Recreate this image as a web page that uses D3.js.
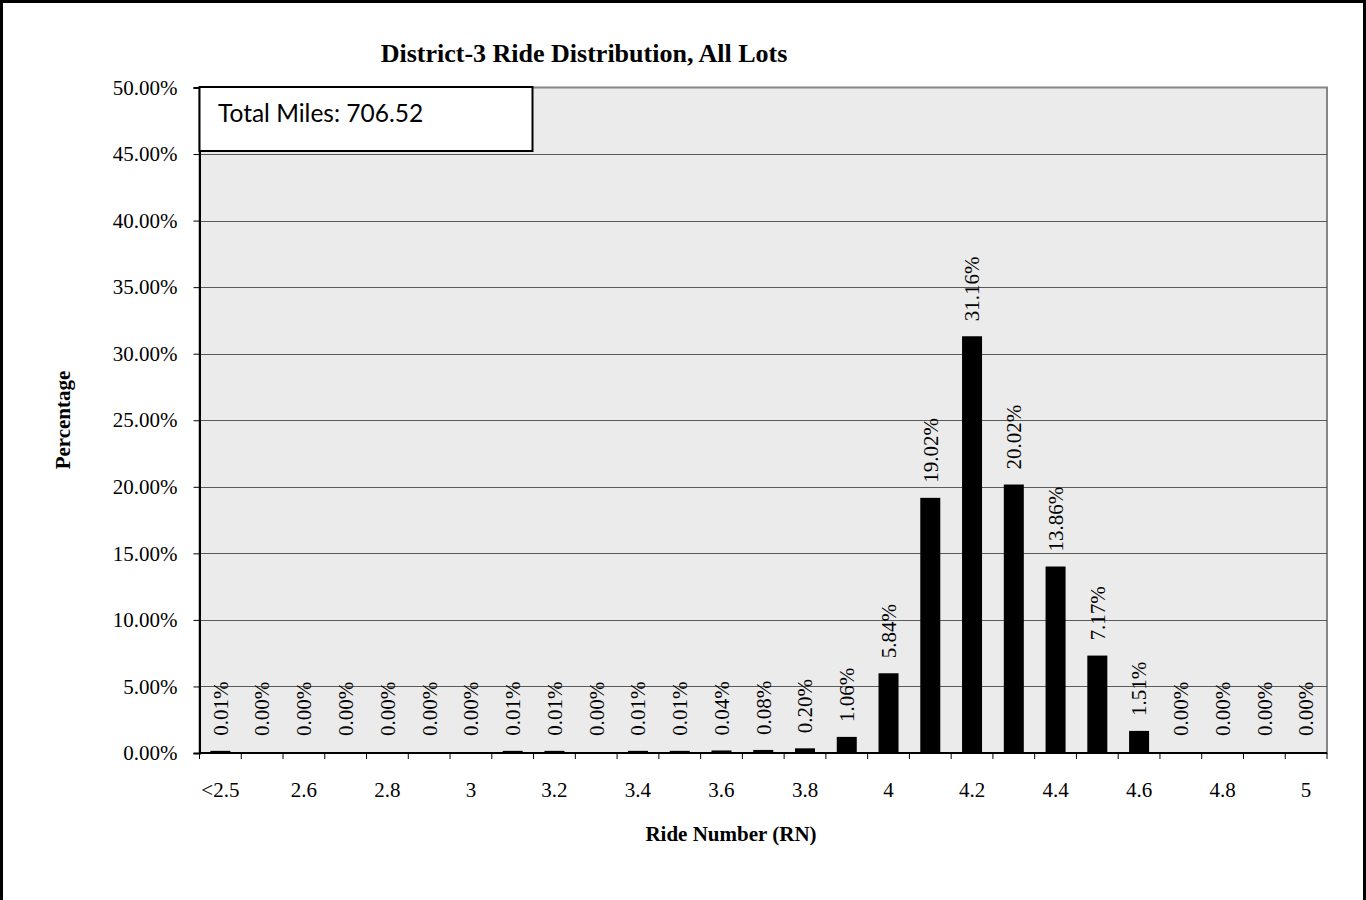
<!DOCTYPE html>
<html>
<head>
<script src="https://cdn.jsdelivr.net/npm/d3@7"></script>
<style>
  body { margin: 0; background: white; }
</style>
</head>
<body>
<script>

var width = 1366,
    height = 900,
    serif = "'Liberation Serif', 'Times New Roman', serif";

// ride number bins and the share of miles in each one
var categories = ["<2.5", "2.5", "2.6", "2.7", "2.8", "2.9", "3", "3.1", "3.2", "3.3",
                  "3.4", "3.5", "3.6", "3.7", "3.8", "3.9", "4", "4.1", "4.2", "4.3",
                  "4.4", "4.5", "4.6", "4.7", "4.8", "4.9", "5"];
var percents = [0.01, 0.00, 0.00, 0.00, 0.00, 0.00, 0.00, 0.01, 0.01, 0.00,
                0.01, 0.01, 0.04, 0.08, 0.20, 1.06, 5.84, 19.02, 31.16, 20.02,
                13.86, 7.17, 1.51, 0.00, 0.00, 0.00, 0.00];
// only every other bin gets a label on the axis
var shownTicks = ["<2.5", "2.6", "2.8", "3", "3.2", "3.4", "3.6", "3.8", "4", "4.2", "4.4", "4.6", "4.8", "5"];
var yTicks = [0, 5, 10, 15, 20, 25, 30, 35, 40, 45, 50];
var totalMiles = "706.52";

var bins = categories.map(function (c, i) { return { cat: c, pct: percents[i] }; });

var plot = { left: 199.5, right: 1327, top: 87.5, bottom: 753 };

var svg = d3.select("body")
            .append("svg")
            .attr("width", width)
            .attr("height", height);

// outer frame
svg.append("rect")
   .attr("x", 1.5).attr("y", 1.5)
   .attr("width", width - 3).attr("height", height + 2)
   .style("fill", "white")
   .style("stroke", "black")
   .style("stroke-width", 3);

var x = d3.scaleBand()
          .domain(categories)
          .range([plot.left, plot.right])
          .paddingInner(0.545)
          .paddingOuter(0.2725);

var y = d3.scaleLinear()
          .domain([0, 50])
          .range([plot.bottom, plot.top]);

// plot area background
svg.append("rect")
   .attr("x", plot.left).attr("y", plot.top)
   .attr("width", plot.right - plot.left)
   .attr("height", plot.bottom - plot.top)
   .style("fill", "#ebebeb")
   .style("stroke", "#868686")
   .style("stroke-width", 2);

// gridlines
svg.append("g")
   .selectAll("line")
   .data(yTicks.slice(1, -1))
   .enter()
   .append("line")
   .attr("x1", plot.left).attr("x2", plot.right)
   .attr("y1", function (d) { return Math.round(y(d)) + 0.5; })
   .attr("y2", function (d) { return Math.round(y(d)) + 0.5; })
   .style("stroke", "#5a5a5a")
   .style("stroke-width", 1);

// bars (zero bins draw nothing)
svg.append("g")
   .selectAll("rect")
   .data(bins.filter(function (d) { return d.pct > 0; }))
   .enter()
   .append("rect")
   .attr("x", function (d) { return x(d.cat) + 0.5; })
   .attr("y", function (d) { return y(d.pct) - 1; })
   .attr("width", x.bandwidth() - 1)
   .attr("height", function (d) { return plot.bottom - y(d.pct) + 1; })
   .style("fill", "black")
   .style("stroke", "black")
   .style("stroke-width", 2);

// value labels, rotated
svg.append("g")
   .selectAll("text")
   .data(bins)
   .enter()
   .append("text")
   .attr("transform", function (d) {
     var cx = x(d.cat) + x.bandwidth() / 2;
     return "translate(" + cx + "," + (y(d.pct) - 17) + ") rotate(-90)";
   })
   .attr("dy", "0.35em")
   .attr("font-family", serif)
   .attr("font-size", 21)
   .attr("text-anchor", "start")
   .text(function (d) { return d.pct.toFixed(2) + "%"; });

// y axis
var yAxis = svg.append("g")
               .attr("transform", "translate(" + plot.left + ",0)")
               .call(d3.axisLeft(y)
                       .tickValues(yTicks)
                       .tickSize(6)
                       .tickPadding(16)
                       .tickFormat(function (d) { return d.toFixed(2) + "%"; }));
yAxis.select(".domain").style("stroke", "black").style("stroke-width", 2);
yAxis.selectAll(".tick line").style("stroke", "black");
yAxis.selectAll(".tick text")
     .style("font-family", serif)
     .style("font-size", "21px")
     .style("fill", "black");

// x axis: ticks sit between bins
var xAxis = svg.append("g")
               .attr("transform", "translate(0," + plot.bottom + ")");
xAxis.append("line")
     .attr("x1", plot.left).attr("x2", plot.right)
     .style("stroke", "black").style("stroke-width", 2);
xAxis.selectAll(".sep")
     .data(d3.range(categories.length + 1))
     .enter()
     .append("line")
     .attr("x1", function (i) { return plot.left + i * x.step(); })
     .attr("x2", function (i) { return plot.left + i * x.step(); })
     .attr("y1", 0).attr("y2", 6)
     .style("stroke", "black");
xAxis.selectAll(".lbl")
     .data(shownTicks)
     .enter()
     .append("text")
     .attr("x", function (d) { return x(d) + x.bandwidth() / 2; })
     .attr("y", 44)
     .attr("font-family", serif)
     .attr("font-size", 21)
     .attr("text-anchor", "middle")
     .text(function (d) { return d; });

// titles
svg.append("text")
   .attr("x", 584).attr("y", 62)
   .attr("font-family", serif)
   .attr("font-size", 26)
   .attr("font-weight", "bold")
   .attr("text-anchor", "middle")
   .text("District-3 Ride Distribution, All Lots");

svg.append("text")
   .attr("x", 731).attr("y", 841)
   .attr("font-family", serif)
   .attr("font-size", 21)
   .attr("font-weight", "bold")
   .attr("text-anchor", "middle")
   .text("Ride Number (RN)");

svg.append("text")
   .attr("transform", "translate(70,420) rotate(-90)")
   .attr("font-family", serif)
   .attr("font-size", 21)
   .attr("font-weight", "bold")
   .attr("text-anchor", "middle")
   .text("Percentage");

// total miles box
var box = svg.append("g");
box.append("rect")
   .attr("x", 199.5).attr("y", 87)
   .attr("width", 333).attr("height", 64)
   .style("fill", "white")
   .style("stroke", "black")
   .style("stroke-width", 2);
box.append("text")
   .attr("x", 218).attr("y", 122)
   .attr("font-family", "Lato, 'Open Sans', sans-serif")
   .attr("font-size", 24.5)
   .text("Total Miles: " + totalMiles);

</script>
</body>
</html>
